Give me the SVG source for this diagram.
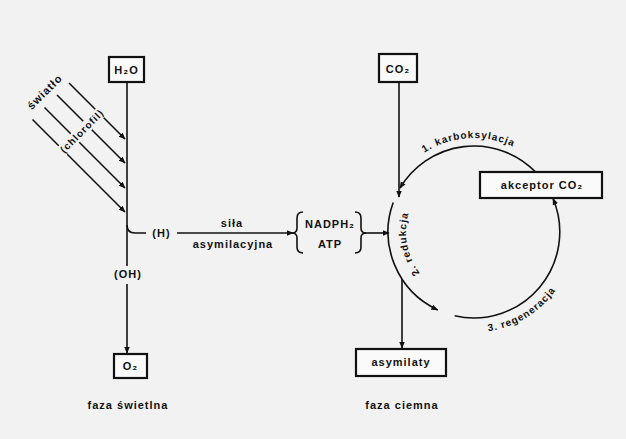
<svg xmlns="http://www.w3.org/2000/svg" width="626" height="439" viewBox="0 0 626 439">
<defs>
<style>
.t{font-family:"Liberation Sans","DejaVu Sans",Arial,sans-serif;font-weight:bold;font-size:11px;letter-spacing:1px;fill:#111}
.c{font-size:10px}
.ln{fill:none;stroke:#111;stroke-width:1.6}
.bx{fill:#fafafa;stroke:#111;stroke-width:2.2}
</style>
<marker id="ah" viewBox="0 0 10 10" refX="9" refY="5" markerWidth="7" markerHeight="7" markerUnits="userSpaceOnUse" orient="auto">
<path d="M0,1 L10,5 L0,9 Z" fill="#111"/>
</marker>
<path id="p1" d="M 408.2 166.2 A 91 91 0 0 1 539.8 166.2"/>
<path id="p2" d="M 450.7 295.9 A 68 68 0 0 1 415.1 198"/>
<path id="p3" d="M 456.6 330.5 A 99 99 0 0 0 570.6 257.9"/>
</defs>
<rect width="626" height="439" fill="#f2f2f2"/>

<g id="connectors">
<line class="ln" x1="69" y1="83" x2="125" y2="139" marker-end="url(#ah)"/>
<line class="ln" x1="57" y1="95" x2="125" y2="163" marker-end="url(#ah)"/>
<line class="ln" x1="44.5" y1="107.5" x2="125" y2="188" marker-end="url(#ah)"/>
<line class="ln" x1="32.5" y1="119.5" x2="125" y2="212" marker-end="url(#ah)"/>
<line class="ln" x1="127" y1="82" x2="127" y2="266"/>
<line class="ln" x1="127" y1="284" x2="127" y2="353" marker-end="url(#ah)"/>
<path class="ln" d="M 127 225 Q 127 233 135 233 L 146 233"/>
<line class="ln" x1="177" y1="233" x2="293" y2="233" marker-end="url(#ah)"/>
<line class="ln" x1="363" y1="233" x2="389" y2="233" marker-end="url(#ah)"/>
<line class="ln" x1="399" y1="82" x2="399" y2="197" marker-end="url(#ah)"/>
<path class="ln" d="M 535.6 172 A 86 86 0 0 0 400 188.2" marker-end="url(#ah)"/>
<path class="ln" d="M 393.2 202.6 A 86 86 0 0 0 437.7 309.9" marker-end="url(#ah)"/>
<path class="ln" d="M 454.7 315.8 A 86 86 0 0 0 553 198.5" marker-end="url(#ah)"/>
<line class="ln" x1="402" y1="279" x2="402" y2="348" marker-end="url(#ah)"/>
</g>

<g id="light">
<g transform="translate(82 131) rotate(-45)">
<rect x="-29" y="-6" width="58" height="12" fill="#f2f2f2"/>
<text class="t c" x="0" y="3.5" text-anchor="middle" font-size="9" letter-spacing="0.6">(chlorofil)</text>
</g>
<text class="t" transform="translate(45 92) rotate(-45)" x="0" y="3.5" text-anchor="middle" font-size="9" letter-spacing="0.6">światło</text>
</g>

<g id="h2o"><rect class="bx" x="109" y="57" width="35" height="25"/><text class="t" x="126.5" y="74" text-anchor="middle" letter-spacing="0.5">H₂O</text></g>
<g id="h"><text class="t" x="161.5" y="237" text-anchor="middle">(H)</text></g>
<g id="sila"><text class="t" x="232" y="227" text-anchor="middle">siła</text><text class="t" x="233" y="248" text-anchor="middle">asymilacyjna</text></g>
<g id="oh"><text class="t" x="128" y="278" text-anchor="middle">(OH)</text></g>
<g id="o2"><rect class="bx" x="114" y="354" width="33" height="24"/><text class="t" x="130.5" y="370" text-anchor="middle">O₂</text></g>
<g id="faza-swietlna"><text class="t" x="128" y="409" text-anchor="middle">faza świetlna</text></g>

<g id="nadph">
<path class="ln" d="M 303 212 Q 297 212 297 218 L 297 228 Q 297 233 292 233 Q 297 233 297 238 L 297 247 Q 297 253 303 253"/>
<path class="ln" d="M 355 212 Q 361 212 361 218 L 361 228 Q 361 233 366 233 Q 361 233 361 238 L 361 247 Q 361 253 355 253"/>
<text class="t" x="330" y="228" text-anchor="middle" letter-spacing="0.5">NADPH₂</text>
<text class="t" x="330" y="248" text-anchor="middle">ATP</text>
</g>

<g id="co2"><rect class="bx" x="379" y="54" width="38" height="28"/><text class="t" x="398" y="73" text-anchor="middle" letter-spacing="0.5">CO₂</text></g>
<g id="akceptor"><rect class="bx" x="480" y="172" width="122" height="26"/><text class="t" x="542" y="189" text-anchor="middle" letter-spacing="1.8">akceptor CO₂</text></g>
<g id="asymilaty"><rect class="bx" x="356" y="349" width="90" height="27"/><text class="t" x="401" y="366" text-anchor="middle">asymilaty</text></g>
<g id="faza-ciemna"><text class="t" x="402" y="409" text-anchor="middle" letter-spacing="1.6">faza ciemna</text></g>

<g id="cycle-labels">
<text class="t c" letter-spacing="1.4"><textPath href="#p1" startOffset="46%" text-anchor="middle">1. karboksylacja</textPath></text>
<text class="t c" letter-spacing="1"><textPath href="#p2" startOffset="59.5%" text-anchor="middle">2. redukcja</textPath></text>
<text class="t c" letter-spacing="1.3"><textPath href="#p3" startOffset="48.8%" text-anchor="middle">3. regeneracja</textPath></text>
</g>
</svg>
